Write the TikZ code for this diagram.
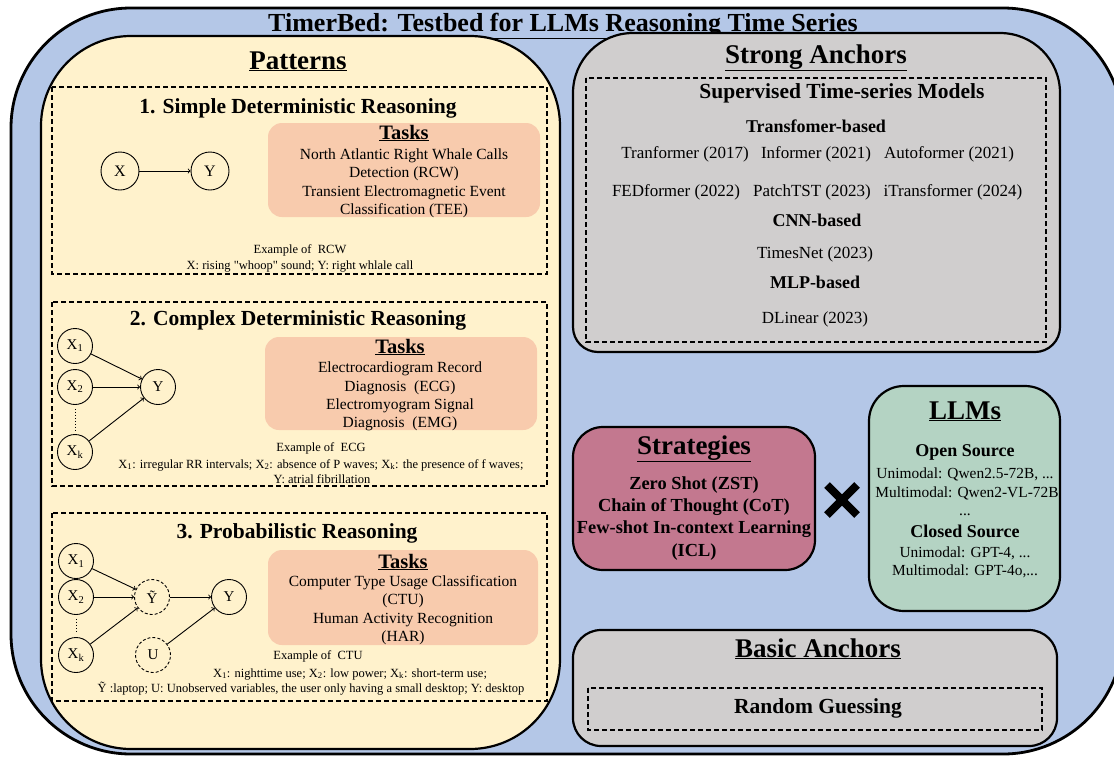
\documentclass[tikz,border=0pt]{standalone}
\usepackage{fontspec}
\setmainfont{Liberation Serif}
\newfontfamily\quotefont{Liberation Serif}
\usepackage{tikz}
\definecolor{framecolor}{HTML}{B4C7E7}
\definecolor{patterncolor}{HTML}{FFF2CC}
\definecolor{anchorcolor}{HTML}{D0CECE}
\definecolor{taskcolor}{HTML}{F8CBAD}
\definecolor{strategycolor}{HTML}{C3788F}
\definecolor{llmcolor}{HTML}{B4D3C3}
\newcommand{\fsize}[1]{\fontsize{#1}{#1}\selectfont}
\newcommand{\dq}{{\quotefont"}}

\begin{document}
\begin{tikzpicture}[x=1pt, y=-1pt,
    txt/.style={anchor=base, inner sep=0pt},
    head/.style={txt, font=\fsize{27}\bfseries},
    sechead/.style={txt, font=\fsize{21.5}\bfseries},
    subhead/.style={txt, font=\fsize{18}\bfseries},
    tasktxt/.style={txt, font=\fsize{15.5}},
    extxt/.style={txt, font=\fsize{12.5}},
    modeltxt/.style={txt, font=\fsize{17}},
    llmtxt/.style={txt, font=\fsize{15.4}},
    panel/.style={draw, line width=2.2pt},
    taskbox/.style={fill=taskcolor, draw=none, rounded corners=14pt},
    dashbox/.style={draw, line width=1.6pt, dash pattern=on 5pt off 3pt},
    var/.style={draw, circle, minimum size=35pt, inner sep=0pt, line width=0.9pt, font=\fsize{15}},
    hidden/.style={var, dash pattern=on 3pt off 2pt},
    edge/.style={->, line width=0.9pt}]

    \useasboundingbox (0,0) rectangle (1114,756);

    % Frame
    \draw[fill=framecolor, line width=2.8pt, rounded corners=120pt] (11,8) rectangle (1123,754);
    \node[txt, font=\fsize{26}\bfseries] (title) at (563,31) {\underline{TimerBed: Testbed for LLMs Reasoning Time Series}};

    % Patterns
    \draw[panel, fill=patterncolor, rounded corners=90pt] (41,36) rectangle (560,749);
    \node[head] (pat) at (298,69) {\underline{Patterns}};

    % 1. Simple deterministic reasoning
    \draw[dashbox] (52,87) rectangle (547,274);
    \node[sechead] (sec1) at (298,113) {1. Simple Deterministic Reasoning};
    \node[var, minimum size=38pt, font=\fsize{16}] (x) at (120,171) {X};
    \node[var, minimum size=38pt, font=\fsize{16}] (y) at (210,171) {Y};
    \draw[edge] (x) -- (y);
    \draw[taskbox] (268,123) rectangle (540,217);
    \node[txt, font=\fsize{20.5}\bfseries] (tasks1) at (404,139) {\underline{Tasks}};
    \node[tasktxt] (rcw1) at (404,159) {North Atlantic Right Whale Calls};
    \node[tasktxt] (rcw2) at (404,177) {Detection (RCW)};
    \node[tasktxt] (tee1) at (404,196) {Transient Electromagnetic Event};
    \node[tasktxt] (tee2) at (404,214) {Classification (TEE)};
    \node[extxt] (ex1a) at (300,253) {Example of~ RCW};
    \node[extxt] (ex1b) at (300,269) {X: rising \dq whoop\dq\ sound; Y: right whlale call};

    % 2. Complex deterministic reasoning
    \draw[dashbox] (52,302) rectangle (547,486);
    \node[sechead] (sec2) at (298,325) {2. Complex Deterministic Reasoning};
    \node[var] (x1) at (75,346) {X\textsubscript{1}};
    \node[var] (x2) at (75,387) {X\textsubscript{2}};
    \node[var] (xk) at (75,452) {X\textsubscript{k}};
    \node[var] (y2) at (158,387) {Y};
    \draw[edge] (x1) -- (y2);
    \draw[edge] (x2) -- (y2);
    \draw[edge] (xk) -- (y2);
    \draw[dotted, line width=1pt, shorten >=4pt, shorten <=4pt] (x2) -- (xk);
    \draw[taskbox] (265,337) rectangle (537,430);
    \node[txt, font=\fsize{20.5}\bfseries] (tasks2) at (400,353) {\underline{Tasks}};
    \node[tasktxt] (ecg1) at (400,372) {Electrocardiogram Record};
    \node[tasktxt] (ecg2) at (400,391) {Diagnosis~ (ECG)};
    \node[tasktxt] (emg1) at (400,409) {Electromyogram Signal};
    \node[tasktxt] (emg2) at (400,427) {Diagnosis~ (EMG)};
    \node[extxt] (ex2a) at (321,451) {Example of~ ECG};
    \node[extxt] (ex2b) at (321,468) {X\textsubscript{1}: irregular RR intervals; X\textsubscript{2}: absence of P waves; X\textsubscript{k}: the presence of f waves;};
    \node[extxt] (ex2c) at (322,483) {Y: atrial fibrillation};

    % 3. Probabilistic reasoning
    \draw[dashbox] (52,513) rectangle (547,701);
    \node[sechead] (sec3) at (297,538) {3. Probabilistic Reasoning};
    \node[var] (p1) at (76,561) {X\textsubscript{1}};
    \node[var] (p2) at (76,597) {X\textsubscript{2}};
    \node[var] (pk) at (76,655) {X\textsubscript{k}};
    \node[hidden] (yt) at (152,597) {\~{Y}};
    \node[var] (y3) at (229,597) {Y};
    \node[hidden] (u) at (153,655) {U};
    \draw[edge] (p1) -- (yt);
    \draw[edge] (p2) -- (yt);
    \draw[edge] (pk) -- (yt);
    \draw[edge] (yt) -- (y3);
    \draw[edge] (u) -- (y3);
    \draw[dotted, line width=1pt, shorten >=4pt, shorten <=4pt] (p2) -- (pk);
    \draw[taskbox] (268,550) rectangle (538,645);
    \node[txt, font=\fsize{20.5}\bfseries] (tasks3) at (403,568) {\underline{Tasks}};
    \node[tasktxt] (ctu1) at (403,586) {Computer Type Usage Classification};
    \node[tasktxt] (ctu2) at (403,604) {(CTU)};
    \node[tasktxt] (har1) at (403,623) {Human Activity Recognition};
    \node[tasktxt] (har2) at (403,641) {(HAR)};
    \node[extxt] (ex3a) at (318,659) {Example of~ CTU};
    \node[extxt] (ex3b) at (350,677) {X\textsubscript{1}: nighttime use; X\textsubscript{2}: low power; X\textsubscript{k}: short-term use;};
    \node[extxt] (ex3c) at (311,692) {\~{Y} :laptop; U: Unobserved variables, the user only having a small desktop; Y: desktop};

    % Strong anchors (wide round top, tighter bottom)
    \draw[panel, fill=anchorcolor] (573,93) arc[start angle=180, end angle=90, radius=60pt]
        -- (1000,33) arc[start angle=90, end angle=0, radius=60pt]
        -- (1060,327) arc[start angle=0, end angle=-90, radius=25pt]
        -- (598,352) arc[start angle=270, end angle=180, radius=25pt] -- cycle;
    \node[head] (strong) at (816,63) {\underline{Strong Anchors}};
    \draw[dashbox] (586,78) rectangle (1046,342);
    \node[sechead] (sup) at (842,98) {Supervised Time-series Models};
    \node[subhead] (trans) at (816,132) {Transfomer-based};
    \node[modeltxt] (m1) at (685,158) {Tranformer (2017)};
    \node[modeltxt] (m2) at (816,158) {Informer (2021)};
    \node[modeltxt] (m3) at (949,158) {Autoformer (2021)};
    \node[modeltxt] (m4) at (676,196) {FEDformer (2022)};
    \node[modeltxt] (m5) at (812,196) {PatchTST (2023)};
    \node[modeltxt] (m6) at (953,196) {iTransformer (2024)};
    \node[subhead] (cnn) at (817,226) {CNN-based};
    \node[modeltxt] (m7) at (815,258) {TimesNet (2023)};
    \node[subhead] (mlp) at (815,288) {MLP-based};
    \node[modeltxt] (m8) at (815,323) {DLinear (2023)};

    % Strategies
    \draw[panel, fill=strategycolor, rounded corners=30pt] (573,427) rectangle (815,570);
    \node[head] (strat) at (694,454) {\underline{Strategies}};
    \node[txt, font=\fsize{18.4}\bfseries] (zst) at (694,489) {Zero Shot (ZST)};
    \node[txt, font=\fsize{18.4}\bfseries] (cot) at (694,511) {Chain of Thought (CoT)};
    \node[txt, font=\fsize{18.4}\bfseries] (icl1) at (694,533) {Few-shot In-context Learning};
    \node[txt, font=\fsize{18.4}\bfseries] (icl2) at (694,556) {(ICL)};

    % Cross
    \draw[line width=8pt] (827,485) -- (857,515);
    \draw[line width=8pt] (857,485) -- (827,515);

    % LLMs
    \draw[panel, fill=llmcolor, rounded corners=35pt] (869,386) rectangle (1060,611);
    \node[head] (llms) at (965,419) {\underline{LLMs}};
    \node[subhead] (open) at (965,456) {Open Source};
    \node[llmtxt] (o1) at (965,478) {Unimodal: Qwen2.5-72B, ...};
    \node[llmtxt] (o2) at (967,497) {Multimodal: Qwen2-VL-72B};
    \node[llmtxt] (o3) at (965,515) {...};
    \node[subhead] (closed) at (965,537) {Closed Source};
    \node[llmtxt] (c1) at (965,557) {Unimodal: GPT-4, ...};
    \node[llmtxt] (c2) at (965,575) {Multimodal: GPT-4o,...};

    % Basic anchors
    \draw[panel, fill=anchorcolor, rounded corners=28pt] (573,630) rectangle (1057,746);
    \node[head] (basic) at (818,657) {\underline{Basic Anchors}};
    \draw[dashbox] (588,688) rectangle (1042,730);
    \node[sechead] (rand) at (818,713) {Random Guessing};

\end{tikzpicture}
\end{document}
